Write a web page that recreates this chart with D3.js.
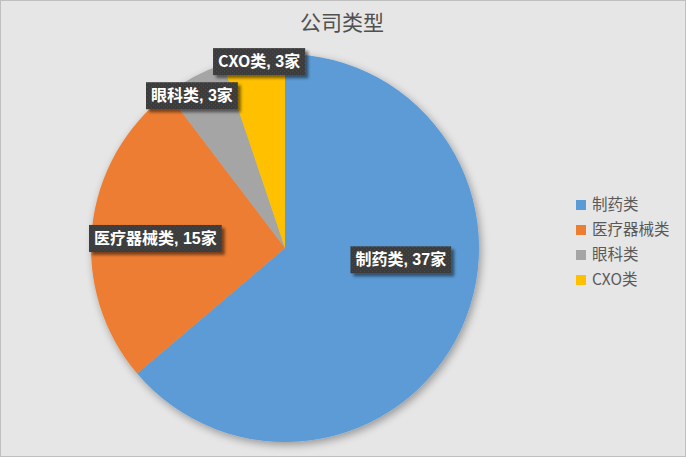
<!DOCTYPE html>
<html>
<head>
<meta charset="utf-8">
<script src="https://cdn.jsdelivr.net/npm/d3@7"></script>
<style>
  html, body { margin: 0; padding: 0; background: #fff; }
  svg { display: block; }
</style>
</head>
<body>
<div id="grafico"></div>
<script>
const categorias = ["制药类", "医疗器械类", "眼科类", "CXO类"];
const empresas = [37, 15, 3, 3];
const cores = ["#5b9bd5", "#ed7d31", "#a5a5a5", "#ffc000"];
const titulo = "公司类型";

const width = 686, height = 457;
const cx = 285, cy = 248, raio = 194;

// where Excel put each data label: degrees off the slice middle, fraction of radius
const posRotulo = [[-19, 0.6], [-2, 0.67], [-3.5, 0.92], [1.4, 0.97]];

const svg = d3.select("#grafico").append("svg")
  .attr("width", width).attr("height", height);

const defs = svg.append("defs");
const sombra = defs.append("filter").attr("id", "sombra")
  .attr("x", "-20%").attr("y", "-20%").attr("width", "140%").attr("height", "140%");
sombra.append("feGaussianBlur").attr("in", "SourceAlpha").attr("stdDeviation", 4);
sombra.append("feOffset").attr("dx", 2).attr("dy", 3).attr("result", "b");
sombra.append("feComponentTransfer").append("feFuncA").attr("type", "linear").attr("slope", 0.35);
const m = sombra.append("feMerge");
m.append("feMergeNode");
m.append("feMergeNode").attr("in", "SourceGraphic");

const sombraRot = defs.append("filter").attr("id", "sombraRot")
  .attr("x", "-20%").attr("y", "-30%").attr("width", "150%").attr("height", "180%");
sombraRot.append("feGaussianBlur").attr("in", "SourceAlpha").attr("stdDeviation", 1.5);
sombraRot.append("feOffset").attr("dx", 3).attr("dy", 3);
sombraRot.append("feComponentTransfer").append("feFuncA").attr("type", "linear").attr("slope", 0.5);
const m2 = sombraRot.append("feMerge");
m2.append("feMergeNode");
m2.append("feMergeNode").attr("in", "SourceGraphic");

const pont = defs.append("pattern").attr("id", "pontos")
  .attr("width", 4).attr("height", 4).attr("patternUnits", "userSpaceOnUse");
pont.append("rect").attr("width", 4).attr("height", 4).attr("fill", "#3a3a3a");
pont.append("rect").attr("x", 1).attr("y", 1).attr("width", 1).attr("height", 1).attr("fill", "#555");
pont.append("rect").attr("x", 3).attr("y", 3).attr("width", 1).attr("height", 1).attr("fill", "#555");

// background + border
svg.append("rect").attr("x", 0.5).attr("y", 0.5)
  .attr("width", width - 1).attr("height", height - 1)
  .attr("fill", "#e6e6e6").attr("stroke", "#bfbfbf");

svg.append("text")
  .attr("x", 342).attr("y", 30)
  .attr("text-anchor", "middle")
  .style("font-family", "'Noto Sans CJK SC', sans-serif")
  .style("font-size", "21px")
  .style("fill", "#505050")
  .text(titulo);

const dados = categorias.map((c, i) => ({ cat: c, val: empresas[i], cor: cores[i] }));
const pie = d3.pie().value((d) => d.val).sort(null);
const arcos = pie(dados);
const arc = d3.arc().innerRadius(0).outerRadius(raio);

const g = svg.append("g").attr("transform", `translate(${cx},${cy})`);
g.append("g").attr("filter", "url(#sombra)")
  .selectAll("path").data(arcos).enter().append("path")
  .attr("d", arc)
  .attr("fill", (d) => d.data.cor);

// labels
const rot = g.selectAll(".rotulo").data(arcos).enter().append("g")
  .attr("class", "rotulo")
  .attr("transform", (d, i) => {
    const a = (d.startAngle + d.endAngle) / 2 + posRotulo[i][0] * Math.PI / 180;
    const r = raio * posRotulo[i][1];
    return `translate(${Math.sin(a) * r},${-Math.cos(a) * r})`;
  });

rot.each(function (d) {
  const sel = d3.select(this);
  const t = sel.append("text")
    .attr("text-anchor", "middle")
    .attr("dy", "0.35em")
    .style("font-family", "'Noto Sans CJK SC', sans-serif")
    .style("font-size", "16px")
    .style("font-weight", "bold")
    .style("fill", "#fff");
  t.append("tspan").text(d.data.cat);
  t.append("tspan").style("font-family", "'Liberation Sans', sans-serif").text(", " + d.data.val);
  t.append("tspan").text("家");
  const bb = t.node().getBBox();
  sel.insert("rect", "text")
    .attr("x", bb.x - 5).attr("y", -13.5)
    .attr("width", bb.width + 10).attr("height", 27)
    .attr("fill", "url(#pontos)")
    .attr("filter", "url(#sombraRot)");
});

// legend
const leg = svg.selectAll(".legenda").data(dados).enter().append("g")
  .attr("class", "legenda")
  .attr("transform", (d, i) => `translate(576, ${205 + i * 25})`);
leg.append("rect").attr("x", 0).attr("y", -5).attr("width", 10).attr("height", 10)
  .attr("fill", (d) => d.cor);
leg.append("text").attr("x", 16).attr("dy", "0.35em")
  .style("font-family", "'Noto Sans CJK SC', sans-serif")
  .style("font-size", "15.5px")
  .style("fill", "#595959")
  .text((d) => d.cat);
</script>
</body>
</html>
